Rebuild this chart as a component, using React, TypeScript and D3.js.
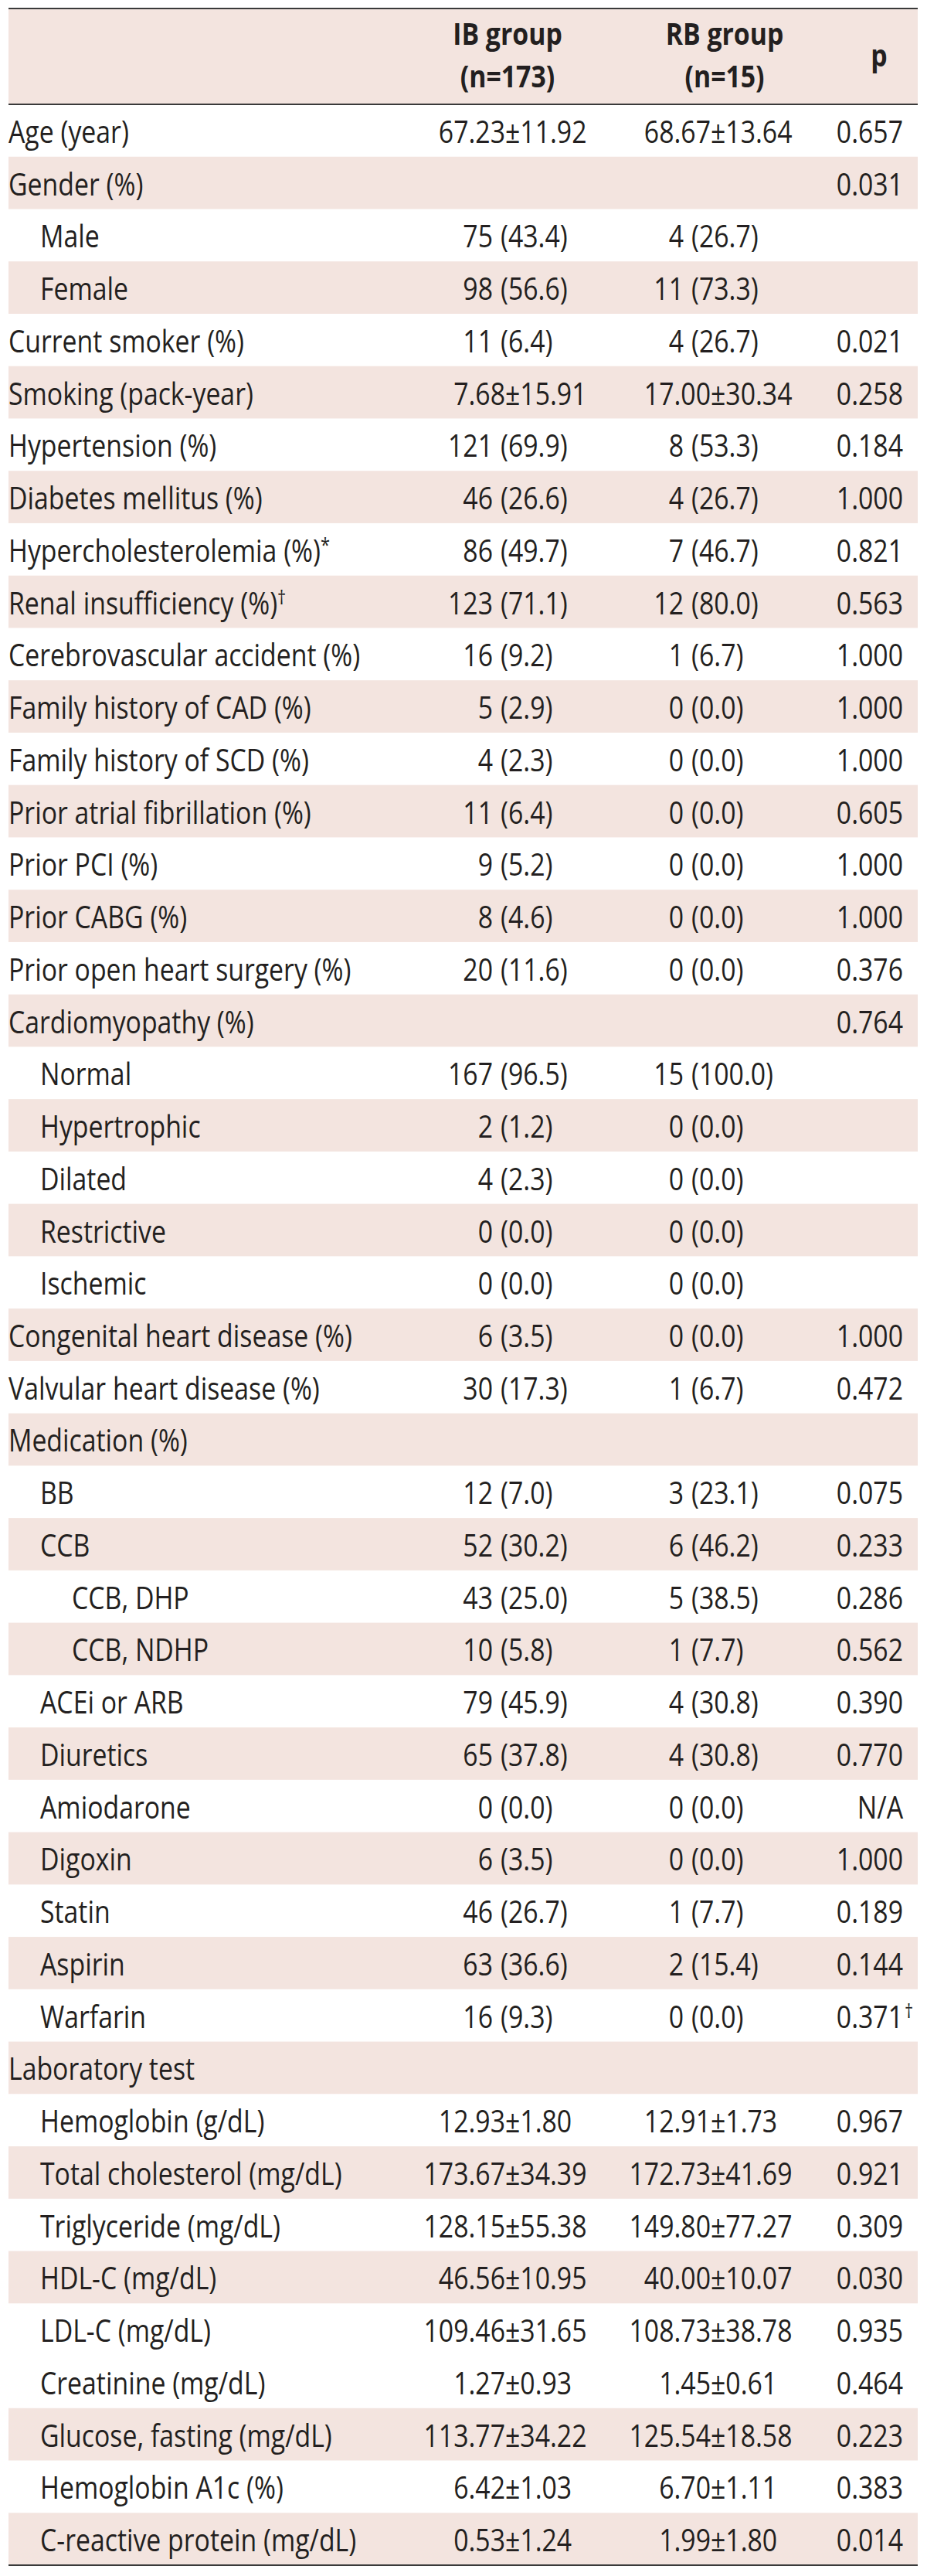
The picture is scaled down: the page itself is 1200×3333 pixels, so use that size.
import React from "react";
import * as d3 from "d3";

const labels: string[] = [
  "Age (year)", "Gender (%)", "Male", "Female", "Current smoker (%)", "Smoking (pack-year)",
  "Hypertension (%)", "Diabetes mellitus (%)", "Hypercholesterolemia (%)", "Renal insufficiency (%)",
  "Cerebrovascular accident (%)", "Family history of CAD (%)", "Family history of SCD (%)",
  "Prior atrial fibrillation (%)", "Prior PCI (%)", "Prior CABG (%)", "Prior open heart surgery (%)",
  "Cardiomyopathy (%)", "Normal", "Hypertrophic", "Dilated", "Restrictive", "Ischemic",
  "Congenital heart disease (%)", "Valvular heart disease (%)", "Medication (%)", "BB", "CCB",
  "CCB, DHP", "CCB, NDHP", "ACEi or ARB", "Diuretics", "Amiodarone", "Digoxin", "Statin", "Aspirin",
  "Warfarin", "Laboratory test", "Hemoglobin (g/dL)", "Total cholesterol (mg/dL)",
  "Triglyceride (mg/dL)", "HDL-C (mg/dL)", "LDL-C (mg/dL)", "Creatinine (mg/dL)",
  "Glucose, fasting (mg/dL)", "Hemoglobin A1c (%)", "C-reactive protein (mg/dL)",
];

const labelMarks: string[] = labels.map((_, i) => (i === 8 ? "*" : i === 9 ? "†" : ""));

const levels: number[] = [
  0, 0, 1, 1, 0, 0, 0, 0, 0, 0, 0, 0, 0, 0, 0, 0, 0, 0, 1, 1, 1, 1, 1, 0, 0, 0, 1, 1, 2, 2, 1, 1,
  1, 1, 1, 1, 1, 0, 1, 1, 1, 1, 1, 1, 1, 1, 1,
];

const ibValues: string[] = [
  "67.23±11.92", "", "75 (43.4)", "98 (56.6)", "11 (6.4)", "7.68±15.91", "121 (69.9)", "46 (26.6)",
  "86 (49.7)", "123 (71.1)", "16 (9.2)", "5 (2.9)", "4 (2.3)", "11 (6.4)", "9 (5.2)", "8 (4.6)",
  "20 (11.6)", "", "167 (96.5)", "2 (1.2)", "4 (2.3)", "0 (0.0)", "0 (0.0)", "6 (3.5)", "30 (17.3)",
  "", "12 (7.0)", "52 (30.2)", "43 (25.0)", "10 (5.8)", "79 (45.9)", "65 (37.8)", "0 (0.0)",
  "6 (3.5)", "46 (26.7)", "63 (36.6)", "16 (9.3)", "", "12.93±1.80", "173.67±34.39",
  "128.15±55.38", "46.56±10.95", "109.46±31.65", "1.27±0.93", "113.77±34.22", "6.42±1.03",
  "0.53±1.24",
];

const rbValues: string[] = [
  "68.67±13.64", "", "4 (26.7)", "11 (73.3)", "4 (26.7)", "17.00±30.34", "8 (53.3)", "4 (26.7)",
  "7 (46.7)", "12 (80.0)", "1 (6.7)", "0 (0.0)", "0 (0.0)", "0 (0.0)", "0 (0.0)", "0 (0.0)",
  "0 (0.0)", "", "15 (100.0)", "0 (0.0)", "0 (0.0)", "0 (0.0)", "0 (0.0)", "0 (0.0)", "1 (6.7)",
  "", "3 (23.1)", "6 (46.2)", "5 (38.5)", "1 (7.7)", "4 (30.8)", "4 (30.8)", "0 (0.0)",
  "0 (0.0)", "1 (7.7)", "2 (15.4)", "0 (0.0)", "", "12.91±1.73", "172.73±41.69",
  "149.80±77.27", "40.00±10.07", "108.73±38.78", "1.45±0.61", "125.54±18.58", "6.70±1.11",
  "1.99±1.80",
];

const pValues: string[] = [
  "0.657", "0.031", "", "", "0.021", "0.258", "0.184", "1.000", "0.821", "0.563", "1.000", "1.000",
  "1.000", "0.605", "1.000", "1.000", "0.376", "0.764", "", "", "", "", "", "1.000", "0.472", "",
  "0.075", "0.233", "0.286", "0.562", "0.390", "0.770", "N/A", "1.000", "0.189", "0.144", "0.371",
  "", "0.967", "0.921", "0.309", "0.030", "0.935", "0.464", "0.223", "0.383", "0.014",
];

const pMarks: string[] = labels.map((_, i) => (i === 36 ? "†" : ""));

const headerCols: string[][] = [["IB group", "(n=173)"], ["RB group", "(n=15)"], ["p"]];

const W = 1200;
const H = 3333;
const X0 = 11;
const X1 = 1188;
const TOP = 11;
const HEAD_BOTTOM = 135;
const BOTTOM = 3319;
const PINK = "#f3e4df";
const INK = "#231f20";
const LINE = "#3a3a3a";
const FONT = "'Open Sans', 'Noto Sans', sans-serif";
const FS = 40;
const SX = 0.845;

function splitValue(v: string): { left: string; right: string; kind: string } {
  if (v.includes("±")) {
    const [a, b] = v.split("±");
    return { left: a, right: "±" + b, kind: "pm" };
  }
  const m = v.match(/^(\S+)\s(.*)$/);
  if (m) return { left: m[1], right: m[2], kind: "n" };
  return { left: v, right: "", kind: "n" };
}

type TProps = {
  x: number;
  y: number;
  anchor?: "start" | "middle" | "end";
  size?: number;
  bold?: boolean;
  children?: React.ReactNode;
};

function T({ x, y, anchor = "start", size = FS, bold = false, children }: TProps) {
  return (
    <text
      transform={`translate(${x},${y}) scale(${SX},1)`}
      textAnchor={anchor}
      fontSize={size}
      fontWeight={bold ? "bold" : "normal"}
    >
      {children}
    </text>
  );
}

export default function App() {
  const idx = labels.map((_, i) => i);
  const y = d3.scaleBand<number>().domain(idx).range([HEAD_BOTTOM, BOTTOM]).padding(0);
  const indent = d3.scaleLinear().domain([0, 1]).range([X0, X0 + 41]);
  const colAnchors = [
    { numEnd: 638, paren: 648, pm: 654 },
    { numEnd: 885, paren: 895, pm: 920 },
  ];
  const headerCenters = [657, 938, 1138];
  const pRight = 1169;
  const rh = y.bandwidth();
  const shaded = (i: number) => (i <= 42 ? i % 2 === 1 : i % 2 === 0);

  const renderVal = (v: string, c: number, yy: number, key: string) => {
    if (!v) return null;
    const s = splitValue(v);
    const a = colAnchors[c];
    if (s.kind === "pm") {
      return (
        <g key={key}>
          <T x={a.pm} y={yy} anchor="end">{s.left}</T>
          <T x={a.pm} y={yy}>{s.right}</T>
        </g>
      );
    }
    return (
      <g key={key}>
        <T x={a.numEnd} y={yy} anchor="end">{s.left}</T>
        <T x={a.paren} y={yy}>{s.right}</T>
      </g>
    );
  };

  return (
    <svg
      width={W}
      height={H}
      style={{ position: "absolute", left: 0, top: 0, display: "block", background: "#fff" }}
      fontFamily={FONT}
      fontSize={FS}
      fill={INK}
    >
      <rect x={X0} y={TOP} width={X1 - X0} height={HEAD_BOTTOM - TOP} fill={PINK} />
      {idx.map((i) =>
        shaded(i) ? (
          <rect key={"bg" + i} x={X0} y={y(i)!} width={X1 - X0} height={rh} fill={PINK} />
        ) : null
      )}
      <line x1={X0} x2={X1} y1={TOP} y2={TOP} stroke={LINE} strokeWidth={2} />
      <line x1={X0} x2={X1} y1={HEAD_BOTTOM} y2={HEAD_BOTTOM} stroke={LINE} strokeWidth={2} />
      <line x1={X0} x2={X1} y1={BOTTOM} y2={BOTTOM} stroke={LINE} strokeWidth={2} />
      {headerCols.map((lines, c) =>
        lines.length === 2 ? (
          <g key={"h" + c}>
            <T x={headerCenters[c]} y={58} anchor="middle" bold>{lines[0]}</T>
            <T x={headerCenters[c]} y={113} anchor="middle" bold>{lines[1]}</T>
          </g>
        ) : (
          <T key={"h" + c} x={headerCenters[c]} y={86} anchor="middle" bold>{lines[0]}</T>
        )
      )}
      {idx.map((i) => {
        const yy = y(i)! + rh / 2 + 16;
        return (
          <g key={"r" + i}>
            <T x={indent(levels[i])} y={yy}>
              {labels[i]}
              {labelMarks[i] ? <tspan dy={-13} fontSize={26}>{labelMarks[i]}</tspan> : null}
            </T>
            {renderVal(ibValues[i], 0, yy, "ib" + i)}
            {renderVal(rbValues[i], 1, yy, "rb" + i)}
            {pValues[i] ? <T x={pRight} y={yy} anchor="end">{pValues[i]}</T> : null}
            {pMarks[i] ? <T x={pRight + 2} y={yy - 13} size={26}>{pMarks[i]}</T> : null}
          </g>
        );
      })}
    </svg>
  );
}
